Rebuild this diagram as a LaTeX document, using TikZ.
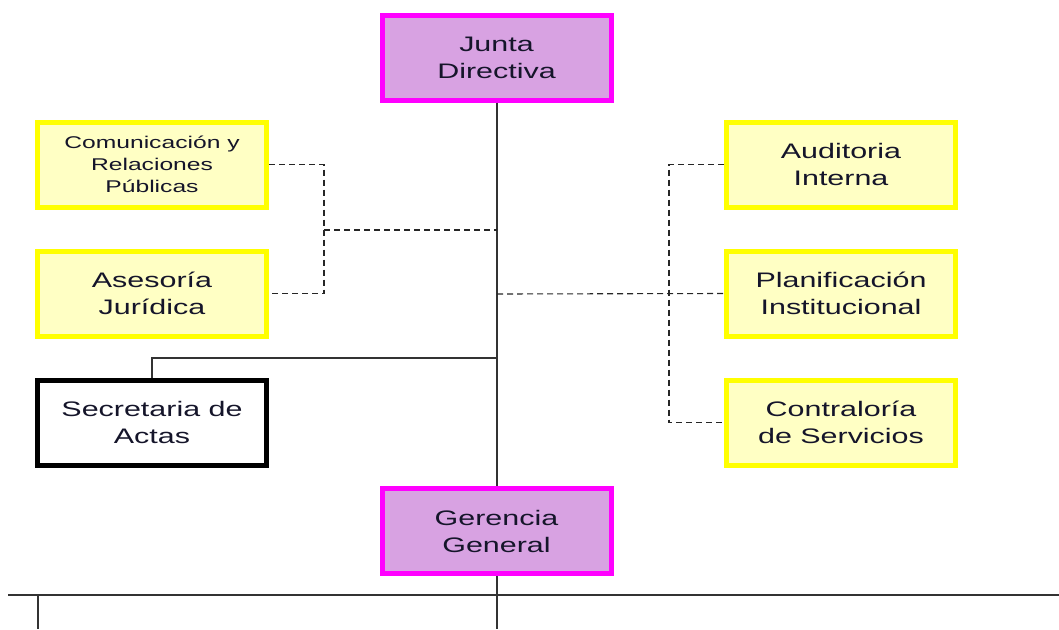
\documentclass[tikz,border=0pt]{standalone}
\usepackage{fontspec}
\setmainfont[FakeStretch=1.45]{Liberation Sans}
\definecolor{magbord}{HTML}{FF00FF}
\definecolor{magfill}{HTML}{D8A2E2}
\definecolor{yelbord}{HTML}{FFFF00}
\definecolor{yelfill}{HTML}{FFFFC4}
\definecolor{txt}{HTML}{15152A}
\tikzset{
  box/.style={rectangle, minimum width=229pt, minimum height=85pt, line width=5pt, align=center, text=txt, inner sep=0pt},
  mbox/.style={box, draw=magbord, fill=magfill, font=\fontsize{21}{27}\selectfont},
  ybox/.style={box, draw=yelbord, fill=yelfill, font=\fontsize{21}{27}\selectfont},
  sbox/.style={ybox, font=\fontsize{17}{22}\selectfont},
  kbox/.style={box, draw=black, fill=white, font=\fontsize{21}{27}\selectfont},
  solidline/.style={line width=1.1pt, draw=black!80},
  dashline/.style={line width=1.1pt, draw=black!85, dash pattern=on 6pt off 4pt},
}
\begin{document}
\begin{tikzpicture}[x=1pt, y=-1pt]
\useasboundingbox (0,0) rectangle (1059,629);
% coordinates
\coordinate (jc) at (497,230);
\coordinate (jp) at (497,294);
\coordinate (js) at (497,358);
\coordinate (lc) at (324,230);
\coordinate (rc) at (669,294);
\coordinate (sc) at (152,358);
\coordinate (gb) at (497,629);
\coordinate (hl) at (8,595);
\coordinate (hr) at (1059,595);
\coordinate (hx) at (38,595);
\coordinate (hxb) at (38,629);
% nodes
\node[mbox] (junta) at (496.5,57.5) {Junta\\Directiva};
\node[sbox] (comu) at (152,164.5) {Comunicación y\\Relaciones\\Públicas};
\node[ybox] (ases) at (152,293.5) {Asesoría\\Jurídica};
\node[kbox] (secr) at (152,422.5) {Secretaria de\\Actas};
\node[ybox] (audi) at (841,164.5) {Auditoria\\Interna};
\node[ybox] (plan) at (841,293.5) {Planificación\\Institucional};
\node[ybox] (cont) at (841,422.5) {Contraloría\\de Servicios};
\node[mbox] (gere) at (496.5,531) {Gerencia\\General};
% connectors
\draw[solidline] (junta.south -| jc) -- (gere.north -| jc);
\draw[solidline] (gere.south -| gb) -- (gb);
\draw[solidline] (hl) -- (hr);
\draw[solidline] (hx) -- (hxb);
\draw[solidline] (js) -- (sc) -- (secr.north -| sc);
\draw[dashline] (comu.east) -| (lc) |- (ases.east);
\draw[dashline] (lc) -- (jc);
\draw[dashline] (audi.west) -| (rc) |- (cont.west);
\draw[dashline] (jp) -- (plan.west);
\end{tikzpicture}
\end{document}
